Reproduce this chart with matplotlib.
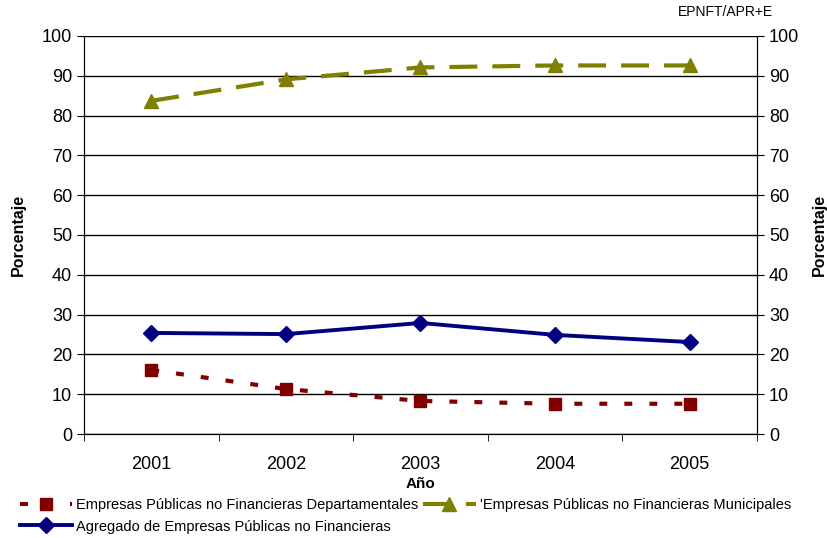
import matplotlib
matplotlib.use('Agg')
import matplotlib.pyplot as plt
import numpy as np

plt.rcParams['font.family'] = ['Liberation Sans', 'DejaVu Sans']

years = ['2001', '2002', '2003', '2004', '2005']
departamentales = [16.1, 11.3, 8.3, 7.6, 7.6]
municipales = [83.7, 89.1, 92.1, 92.6, 92.6]
agregado = [25.4, 25.1, 27.9, 24.9, 23.1]

label_dep = 'Empresas Públicas no Financieras Departamentales'
label_mun = "'Empresas Públicas no Financieras Municipales"
label_agr = 'Agregado de Empresas Públicas no Financieras'

fig = plt.figure(figsize=(8.28, 5.38), dpi=100)
ax = fig.add_axes([0.1014, 0.1933, 0.8129, 0.7398])

x = np.arange(len(years))
l_dep, = ax.plot(x, departamentales, color='#800000', lw=3, ls=(0, (1.9, 4.1)),
                 marker='s', ms=8.5, mec='#800000', label=label_dep, zorder=3)
l_mun, = ax.plot(x, municipales, color='#808000', lw=3, ls=(0, (6.7, 3.6)),
                 marker='^', ms=10, label=label_mun, zorder=3)
l_agr, = ax.plot(x, agregado, color='#000080', lw=2.8, ls='-',
                 marker='D', ms=8.5, label=label_agr, zorder=3)

ax.set_xlim(-0.5, 4.5)
ax.set_ylim(0, 100)
ax.set_yticks(range(0, 101, 10))
ax.yaxis.grid(True, color='black', lw=1)
ax.set_axisbelow(True)
ax.spines['top'].set_visible(False)
ax.set_xticks(x)
ax.set_xticklabels(years, fontsize=13)
ax.set_xticks(np.arange(-0.5, 5, 1), minor=True)
ax.tick_params(axis='x', which='major', length=0, pad=16)
ax.tick_params(axis='x', which='minor', length=5, direction='out')
ax.tick_params(axis='y', labelsize=13, direction='out', length=5)
ax.set_xlabel('Año', fontsize=11, fontweight='bold', labelpad=3)
ax.set_ylabel('Porcentaje', fontsize=11.5, fontweight='bold')
ax.yaxis.set_label_coords(-0.086, 0.5)

ax2 = ax.twinx()
ax2.set_ylim(0, 100)
ax2.set_yticks(range(0, 101, 10))
ax2.tick_params(axis='y', labelsize=13, direction='out', length=5)
ax2.spines['top'].set_visible(False)
ax2.set_ylabel('Porcentaje', fontsize=11.5, fontweight='bold')
ax2.yaxis.set_label_coords(1.081, 0.5)

fig.text(0.934, 0.977, 'EPNFT/APR+E', fontsize=10, ha='right', va='center')

fig.legend([l_dep, l_agr, l_mun], [label_dep, label_agr, label_mun],
           loc='lower left', bbox_to_anchor=(0.013, -0.008), ncol=2,
           frameon=False, fontsize=10.5, handlelength=3.6, handletextpad=0.3,
           columnspacing=0.3, labelspacing=0.5, borderaxespad=0.2)

plt.savefig('out.png', dpi=100)
